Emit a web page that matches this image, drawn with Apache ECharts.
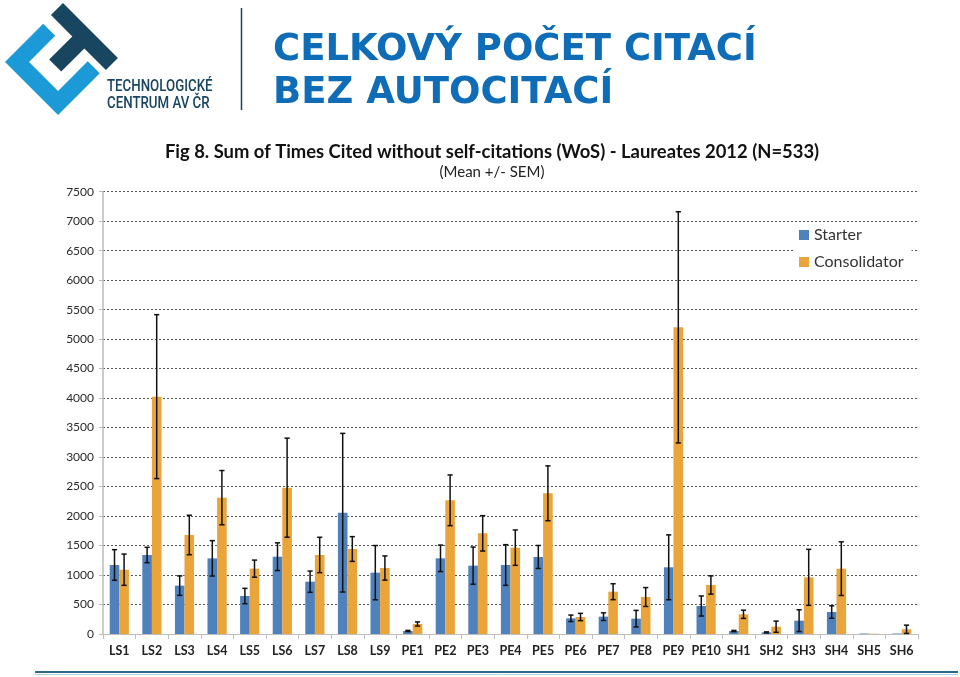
<!DOCTYPE html>
<html>
<head>
<meta charset="utf-8">
<script src="https://cdn.jsdelivr.net/npm/echarts@6/dist/echarts.min.js"></script>
<style>
html,body{margin:0;padding:0;background:#fff;}
#c{width:960px;height:677px;}
</style>
</head>
<body>
<div id="c"></div>
<script>
const categories = ['LS1','LS2','LS3','LS4','LS5','LS6','LS7','LS8','LS9','PE1','PE2','PE3','PE4','PE5','PE6','PE7','PE8','PE9','PE10','SH1','SH2','SH3','SH4','SH5','SH6'];
const starter =      [1170,1340,820,1283,644,1311,887,2057,1040, 51,1283,1159,1170,1306,266,294,260,1131,475, 51,28,226,373,8,8];
const starterErr =   [260,130,165,300,130,235,180,1345,460, 10,225,315,345,195,55,65,140,550,170, 10,8,185,105,0,0];
const consolidator = [1090,4025,1679,2312,1108,2481,1340,1441,1119, 170,2267,1707,1464,2386,288,717,627,5200,831, 334,124,961,1108,5,80];
const consErr =      [265,1390,335,460,145,840,300,210,205, 35,430,300,300,465,62,135,160,1960,155, 70,95,475,455,0,70];
const yTicks = {min:0, max:7500, interval:500};

const BLUE = '#4f81bd', ORANGE = '#e9a43a';
const BW = 9.6;

function errSeries(vals, errs, side){
  return {
    type:'custom', silent:true, z:5,
    data: vals.map((v,i)=>[i, v, errs[i]]),
    encode:{x:0,y:1},
    renderItem:function(params, api){
      const i = api.value(0), v = api.value(1), e = api.value(2);
      if(!e) return null;
      const top = api.coord([i, v+e]);
      const bot = api.coord([i, Math.max(0, v-e)]);
      const x = top[0] + side*BW/2;
      const cw = 2.6;
      const st = {stroke:'#111', lineWidth:1.5};
      return {type:'group', children:[
        {type:'line', shape:{x1:x,y1:top[1],x2:x,y2:bot[1]}, style:st},
        {type:'line', shape:{x1:x-cw,y1:top[1],x2:x+cw,y2:top[1]}, style:st},
        {type:'line', shape:{x1:x-cw,y1:bot[1],x2:x+cw,y2:bot[1]}, style:st}
      ]};
    }
  };
}

// logo polygons in a 45deg rotated frame
const S2 = Math.SQRT2;
function P(p,q){ return [5 + (p+q)/S2, 62 + (p-q)/S2]; }
const t = 17;
const cShape = [[0,0],[0,54],[t,54],[t,t],[75-t,t],[75-t,59],[75,59],[75,0]].map(a=>P(a[0],a[1]));
const tShape = [[-0.7,82.7],[77,82.7],[77,82.7-t],[38+t/2,82.7-t],[38+t/2,33],[38-t/2,33],[38-t/2,82.7-t],[-0.7,82.7-t]].map(a=>P(a[0],a[1]));

const chart = echarts.init(document.getElementById('c'), null, {renderer:'canvas'});
chart.setOption({
  backgroundColor:'#fff',
  animation:false,
  grid:{left:103, right:42, top:191.7, bottom:43, containLabel:false},
  legend:{
    data:['Starter','Consolidator'], orient:'vertical', left:794, top:223,
    icon:'rect', itemWidth:10, itemHeight:10, itemGap:11,
    backgroundColor:'#fff', padding:[4,8,4,5],
    textStyle:{fontFamily:'Lato', fontSize:16, color:'#333'}
  },
  xAxis:{
    type:'category', data:categories,
    axisLine:{lineStyle:{color:'#bdbdbd', width:1}},
    axisTick:{show:true, interval:0, length:5, lineStyle:{color:'#bdbdbd'}},
    axisLabel:{interval:0, margin:10, fontFamily:'Lato', fontWeight:'bold', fontSize:12.5, color:'#222'}
  },
  yAxis:{
    type:'value', min:yTicks.min, max:yTicks.max, interval:yTicks.interval,
    axisLine:{show:true, lineStyle:{color:'#bdbdbd', width:1.5}},
    axisTick:{show:true, length:4, lineStyle:{color:'#bdbdbd'}},
    axisLabel:{margin:9, fontFamily:'Lato', fontSize:12, color:'#2a2a2a', formatter:function(v){return String(v);}},
    splitLine:{show:true, lineStyle:{color:'#555', type:[2,2], width:1}}
  },
  series:[
    {name:'Starter', type:'bar', data:starter, barWidth:BW, barGap:'0%', itemStyle:{color:BLUE}},
    {name:'Consolidator', type:'bar', data:consolidator, barWidth:BW, barGap:'0%', itemStyle:{color:ORANGE}},
    errSeries(starter, starterErr, -1),
    errSeries(consolidator, consErr, 1)
  ],
  graphic:[
    {type:'polygon', shape:{points:cShape}, style:{fill:'#1b9ad7'}},
    {type:'polygon', shape:{points:tShape}, style:{fill:'#18455f'}},
    {type:'text', x:107, y:79, scaleX:0.83, style:{text:'TECHNOLOGICKÉ', font:'500 16px Roboto', fill:'#18455f'}},
    {type:'text', x:107, y:96, scaleX:0.83, style:{text:'CENTRUM AV ČR', font:'500 16px Roboto', fill:'#18455f'}},
    {type:'line', shape:{x1:241.5,y1:8,x2:241.5,y2:110}, style:{stroke:'#18455f', lineWidth:1.5}},
    {type:'text', x:273, y:50, style:{text:'CELKOVÝ POČET CITACÍ', font:'bold 37px "DejaVu Sans"', fill:'#0f6cb6', verticalAlign:'middle'}},
    {type:'text', x:273, y:93, style:{text:'BEZ AUTOCITACÍ', font:'bold 37px "DejaVu Sans"', fill:'#0f6cb6', verticalAlign:'middle'}},
    {type:'text', x:492, y:152, style:{text:'Fig 8. Sum of Times Cited without self-citations (WoS) - Laureates 2012 (N=533)', font:'bold 18.4px Lato', fill:'#111', align:'center', verticalAlign:'middle'}},
    {type:'text', x:492, y:172, style:{text:'(Mean +/- SEM)', font:'15px Lato', fill:'#222', align:'center', verticalAlign:'middle'}},
    {type:'line', shape:{x1:35,y1:672,x2:958,y2:672}, style:{stroke:'#2b6a8d', lineWidth:2}},
    {type:'line', shape:{x1:35,y1:674.5,x2:958,y2:674.5}, style:{stroke:'#b9d0dd', lineWidth:1}}
  ]
});
</script>
</body>
</html>
